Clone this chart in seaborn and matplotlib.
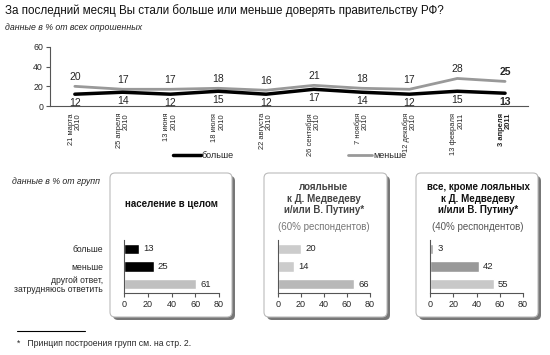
import numpy as np
import pandas as pd
import matplotlib
matplotlib.use('Agg')
import matplotlib.pyplot as plt
from matplotlib.patches import FancyBboxPatch
import seaborn as sns

# --- данные ---
dates = ['21 марта\n2010', '25 апреля\n2010', '13 июня\n2010', '18 июля\n2010',
         '22 августа\n2010', '26 сентября\n2010', '7 ноября\n2010',
         '12 декабря\n2010', '13 февраля\n2011', '3 апреля\n2011']
bolshe = [12, 14, 12, 15, 12, 17, 14, 12, 15, 13]
menshe = [20, 17, 17, 18, 16, 21, 18, 17, 28, 25]

answers = ['больше', 'меньше', 'другой ответ,\nзатрудняюсь ответить']
all_pop = [13, 25, 61]
loyal = [20, 14, 66]
not_loyal = [3, 42, 55]

sns.set_style('white')
plt.rcParams['font.family'] = ['Liberation Sans', 'DejaVu Sans']

W, H = 550, 355
fig = plt.figure(figsize=(W / 100, H / 100), dpi=100)


def ax_px(l, t, r, b):
    a = fig.add_axes([l / W, 1 - b / H, (r - l) / W, (b - t) / H])
    a.set_facecolor('none')
    return a


# фон для подложек и текста в пикселях
bg = fig.add_axes([0, 0, 1, 1], zorder=-1)
bg.set_xlim(0, W)
bg.set_ylim(H, 0)
bg.axis('off')

bg.text(5, 11, 'За последний месяц Вы стали больше или меньше доверять правительству РФ?',
        fontsize=8.4, va='center', ha='left', color='#111111')
bg.text(5, 28, 'данные в % от всех опрошенных', fontsize=6.3, style='italic',
        va='center', ha='left', color='#222222')
bg.text(12, 181, 'данные в % от групп', fontsize=6.3, style='italic',
        va='center', ha='left', color='#222222')

# --- верхний график ---
df = pd.DataFrame({'i': np.arange(len(dates)), 'больше': bolshe, 'меньше': menshe})
ax = ax_px(50, 47, 528, 106)
sns.lineplot(data=df, x='i', y='меньше', color='#999999', linewidth=2, ax=ax)
sns.lineplot(data=df, x='i', y='больше', color='black', linewidth=2.5, ax=ax)
ax.set_xlim(-0.52, 9.48)
ax.set_ylim(0, 60)
ax.set_yticks([0, 20, 40, 60])
ax.set_xticks(df['i'])
ax.set_xticklabels(dates, rotation=90, fontsize=5.4, multialignment='right', va='top',
                   linespacing=1.0)
ax.get_xticklabels()[-1].set_fontweight('bold')
ax.set_xlabel('')
ax.set_ylabel('')
ax.tick_params(axis='x', length=0, pad=5)
ax.tick_params(axis='y', length=3, labelsize=6.3, pad=2, left=True, color='#555555')
for s in ['top', 'right']:
    ax.spines[s].set_visible(False)
for s in ['left', 'bottom']:
    ax.spines[s].set_color('#555555')
    ax.spines[s].set_linewidth(0.8)
for i in range(len(dates)):
    w = 'bold' if i == len(dates) - 1 else 'normal'
    ax.annotate(str(menshe[i]), (i, menshe[i]), xytext=(0, 3), textcoords='offset points',
                ha='center', va='bottom', fontsize=7.5, fontweight=w)
    ax.annotate(str(bolshe[i]), (i, bolshe[i]), xytext=(0, -3), textcoords='offset points',
                ha='center', va='top', fontsize=7.5, fontweight=w)

# легенда
bg.plot([173, 201], [155, 155], color='black', lw=2.5)
bg.text(202, 155, 'больше', fontsize=6.5, va='center', ha='left')
bg.plot([348, 372], [155, 155], color='#999999', lw=2)
bg.text(373, 155, 'меньше', fontsize=6.5, va='center', ha='left')

# --- нижние панели ---
panels = [
    (110, 232, 124, 219, all_pop, ['black', 'black', '#c0c0c0'],
     [('население в целом', 204, 'bold', '#111111')], 171),
    (264, 387, 278, 370, loyal, ['#cccccc', '#cccccc', '#b8b8b8'],
     [('лояльные', 187, 'bold', '#444444'), ('к Д. Медведеву', 198.5, 'bold', '#444444'),
      ('и/или В. Путину*', 210, 'bold', '#444444'),
      ('(60% респондентов)', 227, 'normal', '#777777')], 324),
    (416, 538, 430, 523, not_loyal, ['#a8a8a8', '#999999', '#c8c8c8'],
     [('все, кроме лояльных', 187, 'bold', '#111111'), ('к Д. Медведеву', 198.5, 'bold', '#111111'),
      ('и/или В. Путину*', 210, 'bold', '#111111'),
      ('(40% респондентов)', 227, 'normal', '#555555')], 478),
]

for k, (bl, br, al, ar, vals, cols, titles, cx) in enumerate(panels):
    bg.add_patch(FancyBboxPatch((bl + 3, 176), br - bl, 144, boxstyle='round,pad=0,rounding_size=5',
                                fc='#555555', ec='none', alpha=0.8))
    bg.add_patch(FancyBboxPatch((bl, 173), br - bl, 144, boxstyle='round,pad=0,rounding_size=5',
                                fc='white', ec='#bbbbbb', lw=0.8))
    for txt, y, w, c in titles:
        bg.text(cx, y, txt, ha='center', va='center', fontsize=7, fontweight=w, color=c)

    pdf = pd.DataFrame({'ответ': answers, 'значение': vals})
    a = ax_px(al, 240, ar, 293)
    sns.barplot(data=pdf, x='значение', y='ответ', hue='ответ', palette=cols,
                orient='h', width=0.57, legend=False, ax=a)
    a.set_xlim(0, 80)
    a.set_ylim(2.5, -0.5)
    a.set_xticks([0, 20, 40, 60, 80])
    a.set_xlabel('')
    a.set_ylabel('')
    a.tick_params(axis='x', length=3, labelsize=6.5, pad=2, bottom=True, color='#555555')
    a.tick_params(axis='y', length=0, labelsize=6.2, pad=15)
    if k > 0:
        a.set_yticklabels([])
    else:
        for t in a.get_yticklabels():
            t.set_linespacing(1.0)
    for s in ['top', 'right']:
        a.spines[s].set_visible(False)
    for s in ['left', 'bottom']:
        a.spines[s].set_color('#555555')
        a.spines[s].set_linewidth(0.8)
    for c in a.containers:
        a.bar_label(c, padding=3, fontsize=6.8)

# сноска
bg.plot([17, 85], [331, 331], color='black', lw=0.8)
bg.text(17, 344, '*   Принцип построения групп см. на стр. 2.', fontsize=6.2,
        va='center', ha='left')

fig.savefig('out.png', dpi=100)
